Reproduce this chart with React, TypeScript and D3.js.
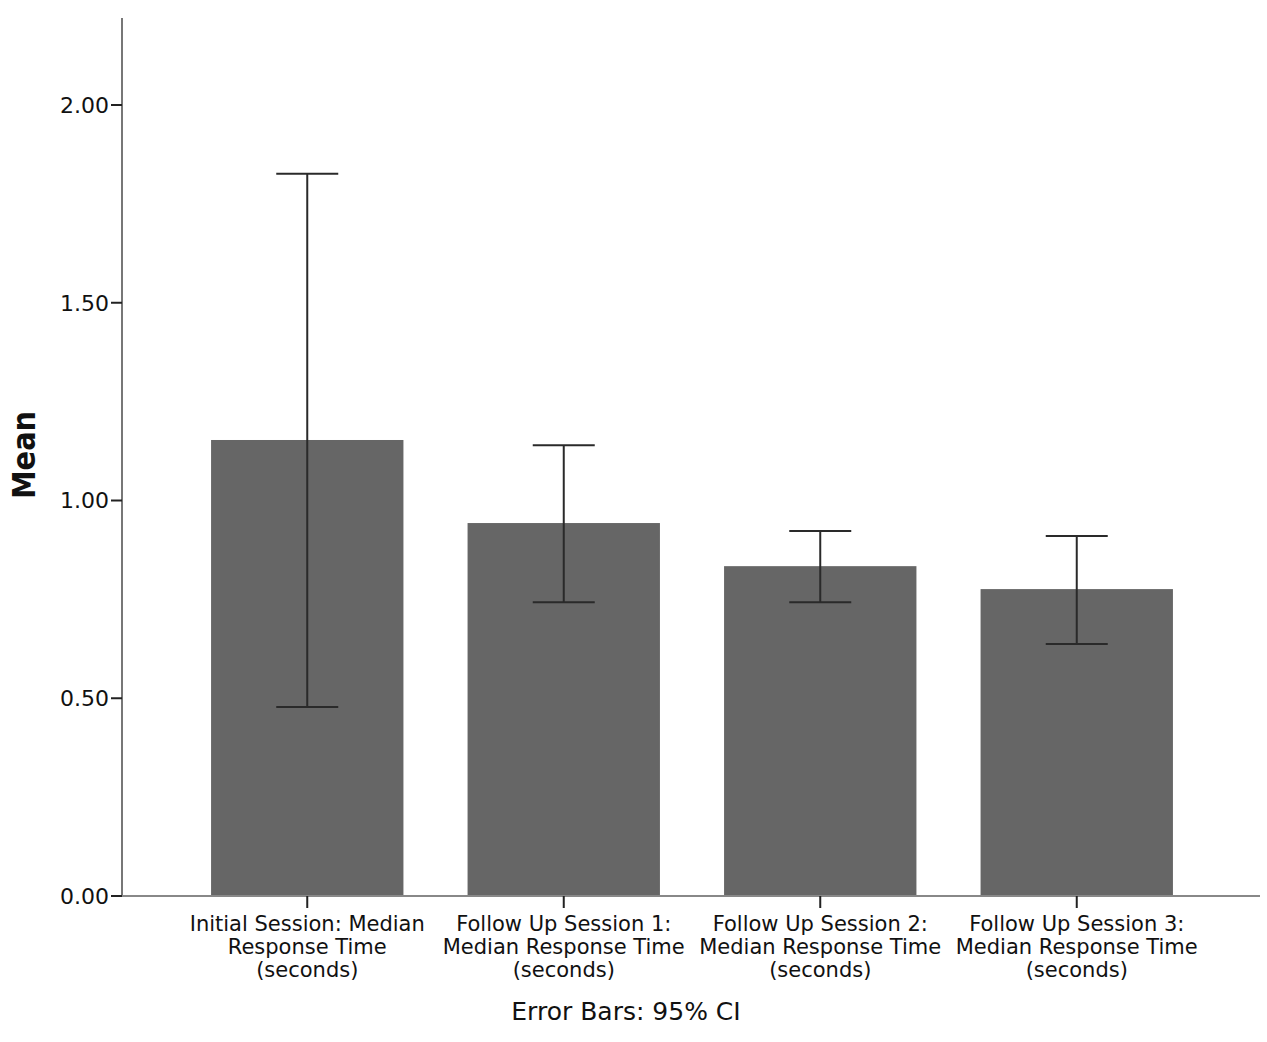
import { useEffect, useRef } from 'react';
import * as d3 from 'd3';

const categories = [
  ['Initial Session: Median', 'Response Time', '(seconds)'],
  ['Follow Up Session 1:', 'Median Response Time', '(seconds)'],
  ['Follow Up Session 2:', 'Median Response Time', '(seconds)'],
  ['Follow Up Session 3:', 'Median Response Time', '(seconds)'],
];
const means = [1.153, 0.943, 0.834, 0.776];
const ciLow = [0.478, 0.743, 0.743, 0.637];
const ciHigh = [1.826, 1.140, 0.923, 0.910];
const yTicks = [0, 0.5, 1.0, 1.5, 2.0];

const W = 1267;
const H = 1042;
const FONT = '"DejaVu Sans", sans-serif';
const FONT_COND = '"DejaVu Sans Condensed", "DejaVu Sans", sans-serif';

export default function App() {
  const svgRef = useRef<SVGSVGElement>(null);

  useEffect(() => {
    if (!svgRef.current) return;
    const svg = d3.select(svgRef.current);
    svg.selectAll('*').remove();

    const axisX = 122;
    const axisY = 896;
    const y = d3.scaleLinear().domain([0, 2.22]).range([axisY, 18]);
    const x = d3.scaleBand<number>()
      .domain(d3.range(categories.length))
      .range([179, 1205])
      .paddingInner(0.25)
      .paddingOuter(0.125);

    // bars
    svg.append('g')
      .selectAll('rect')
      .data(means)
      .join('rect')
      .attr('x', (_, i) => x(i)!)
      .attr('width', x.bandwidth())
      .attr('y', d => y(d))
      .attr('height', d => axisY - y(d))
      .attr('fill', '#666666');

    // error bars
    const cap = 31;
    const eb = svg.append('g').attr('stroke', '#2a2a2a').attr('stroke-width', 2);
    means.forEach((_, i) => {
      const cx = x(i)! + x.bandwidth() / 2;
      eb.append('line').attr('x1', cx).attr('x2', cx).attr('y1', y(ciLow[i])).attr('y2', y(ciHigh[i]));
      eb.append('line').attr('x1', cx - cap).attr('x2', cx + cap).attr('y1', y(ciLow[i])).attr('y2', y(ciLow[i]));
      eb.append('line').attr('x1', cx - cap).attr('x2', cx + cap).attr('y1', y(ciHigh[i])).attr('y2', y(ciHigh[i]));
    });

    // axes
    svg.append('line')
      .attr('x1', axisX).attr('x2', axisX).attr('y1', 18).attr('y2', axisY)
      .attr('stroke', '#777').attr('stroke-width', 2);
    svg.append('line')
      .attr('x1', axisX).attr('x2', 1260).attr('y1', axisY).attr('y2', axisY)
      .attr('stroke', '#888').attr('stroke-width', 2);

    const yg = svg.append('g');
    yTicks.forEach(t => {
      yg.append('line')
        .attr('x1', axisX - 11).attr('x2', axisX).attr('y1', y(t)).attr('y2', y(t))
        .attr('stroke', '#222').attr('stroke-width', 2);
      yg.append('text')
        .attr('x', axisX - 13).attr('y', y(t)).attr('dy', '0.36em')
        .attr('text-anchor', 'end')
        .attr('font-family', FONT).attr('font-size', 22).attr('fill', '#111')
        .text(t.toFixed(2));
    });

    const xg = svg.append('g');
    categories.forEach((lines, i) => {
      const cx = x(i)! + x.bandwidth() / 2;
      xg.append('line')
        .attr('x1', cx).attr('x2', cx).attr('y1', axisY).attr('y2', axisY + 12)
        .attr('stroke', '#222').attr('stroke-width', 2);
      const t = xg.append('text')
        .attr('text-anchor', 'middle')
        .attr('font-family', FONT).attr('font-size', 21).attr('fill', '#111');
      lines.forEach((l, j) => {
        t.append('tspan').attr('x', cx).attr('y', 931 + j * 23).text(l);
      });
    });

    svg.append('text')
      .attr('transform', `translate(35,455) rotate(-90)`)
      .attr('text-anchor', 'middle')
      .attr('font-family', FONT_COND).attr('font-size', 32).attr('font-weight', 'bold').attr('fill', '#111')
      .text('Mean');

    svg.append('text')
      .attr('x', 626).attr('y', 1020)
      .attr('text-anchor', 'middle')
      .attr('font-family', FONT).attr('font-size', 25).attr('fill', '#111')
      .text('Error Bars: 95% CI');
  }, []);

  return (
    <svg
      ref={svgRef}
      width={W}
      height={H}
      style={{ position: 'absolute', left: 0, top: 0, background: '#fff' }}
    />
  );
}
